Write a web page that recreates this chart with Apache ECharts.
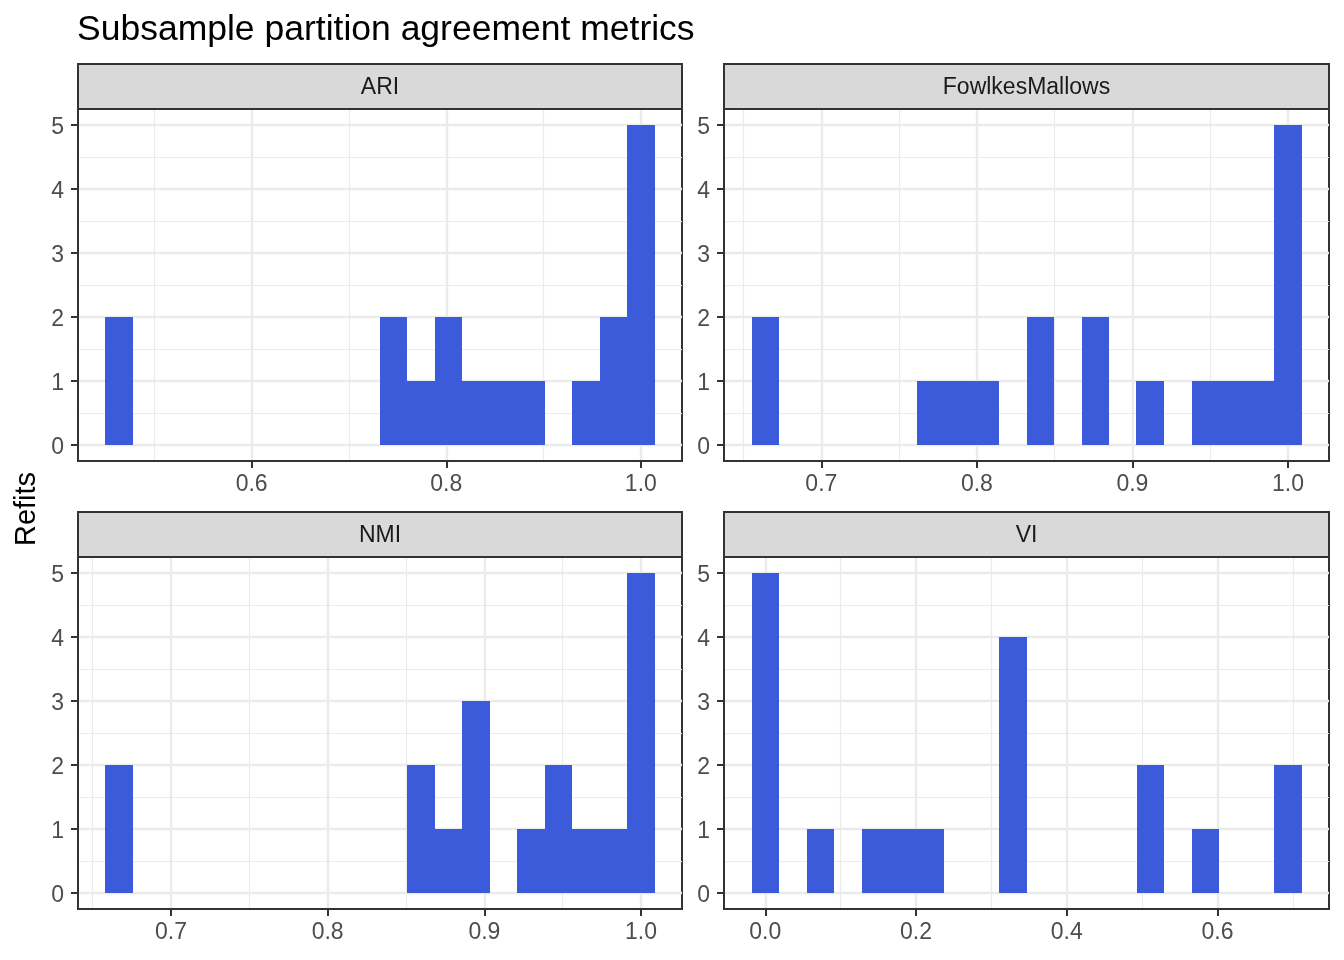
<!DOCTYPE html>
<html>
<head>
<meta charset="utf-8">
<title>Subsample partition agreement metrics</title>
<script src="https://cdn.jsdelivr.net/npm/echarts@6/dist/echarts.min.js"></script>
<style>
  html, body { margin: 0; padding: 0; background: #fff; }
  #chart { width: 1344px; height: 960px; }
</style>
</head>
<body>
<div id="chart"></div>
<script>
// facets, in drawing order
var panels = ['ARI', 'FowlkesMallows', 'NMI', 'VI'];

// histogram bins (20 per facet): left edge of first bin and bin width
var ariBins = [0.4497, 0.02822];
var fmBins = [0.6551, 0.01768];
var nmiBins = [0.6582, 0.01752];
var viBins = [-0.01824, 0.03648];

// counts per bin
var ariCounts = [2, 0, 0, 0, 0, 0, 0, 0, 0, 0, 2, 1, 2, 1, 1, 1, 0, 1, 2, 5];
var fmCounts = [2, 0, 0, 0, 0, 0, 1, 1, 1, 0, 2, 0, 2, 0, 1, 0, 1, 1, 1, 5];
var nmiCounts = [2, 0, 0, 0, 0, 0, 0, 0, 0, 0, 0, 2, 1, 3, 0, 1, 2, 1, 1, 5];
var viCounts = [5, 0, 1, 0, 1, 1, 1, 0, 0, 4, 0, 0, 0, 0, 2, 0, 1, 0, 0, 2];

// tick labels / grid breaks
var ariBreaks = [0.6, 0.8, 1.0];
var ariMinor = [0.5, 0.7, 0.9];
var fmBreaks = [0.7, 0.8, 0.9, 1.0];
var fmMinor = [0.65, 0.75, 0.85, 0.95];
var nmiBreaks = [0.7, 0.8, 0.9, 1.0];
var nmiMinor = [0.65, 0.75, 0.85, 0.95];
var viBreaks = [0.0, 0.2, 0.4, 0.6];
var viMinor = [0.1, 0.3, 0.5, 0.7];
var yBreaks = [0, 1, 2, 3, 4, 5];
var yMinor = [0.5, 1.5, 2.5, 3.5, 4.5];

var bins = [ariBins, fmBins, nmiBins, viBins];
var counts = [ariCounts, fmCounts, nmiCounts, viCounts];
var breaks = [ariBreaks, fmBreaks, nmiBreaks, viBreaks];
var minors = [ariMinor, fmMinor, nmiMinor, viMinor];

var FONT = '"Liberation Sans", Arial, Helvetica, sans-serif';
var barColor = '#3B5BDB';
var colLeft = [78, 724], colWidth = [604, 605];
var stripTop = [64, 512], stripH = 45;
var plotH = 352;

var grids = [], xAxes = [], yAxes = [], series = [], graphics = [];

function renderBar(params, api) {
    var top = api.coord([api.value(0), api.value(2)]);
    var bottom = api.coord([api.value(1), 0]);
    // snap to whole pixels so neighbouring bins don't leave a seam
    var x0 = Math.round(top[0]), x1 = Math.round(bottom[0]);
    var y0 = Math.round(top[1]), y1 = Math.round(bottom[1]);
    return {
        type: 'rect',
        shape: {x: x0, y: y0, width: x1 - x0, height: y1 - y0},
        style: {fill: barColor}
    };
}

panels.forEach(function (name, k) {
    var col = k % 2, row = Math.floor(k / 2);
    var start = bins[k][0], w = bins[k][1], n = counts[k].length;
    var span = n * w;
    // ggplot-like 5% expansion
    var xmin = start - 0.05 * span, xmax = start + span + 0.05 * span;

    grids.push({
        left: colLeft[col], top: stripTop[row] + stripH,
        width: colWidth[col], height: plotH,
        show: true, backgroundColor: '#fff',
        borderColor: '#333', borderWidth: 2,
        containLabel: false, outerBoundsMode: 'none'
    });

    // major x axis
    xAxes.push({
        type: 'value', gridIndex: k, min: xmin, max: xmax, position: 'bottom',
        axisLine: {show: true, onZero: false, lineStyle: {color: '#333', width: 2}},
        axisTick: {show: true, length: 7, customValues: breaks[k], lineStyle: {color: '#333', width: 2}},
        axisLabel: {
            show: true, customValues: breaks[k], margin: 12,
            color: '#4D4D4D', fontSize: 23, fontFamily: FONT,
            formatter: function (v) { return Number(v).toFixed(1); }
        },
        splitLine: {show: true, lineStyle: {color: '#EBEBEB', width: 2.4}}
    });
    // minor x grid
    xAxes.push({
        type: 'value', gridIndex: k, min: xmin, max: xmax, position: 'bottom',
        axisLine: {show: false, onZero: false},
        axisTick: {show: false, customValues: minors[k]},
        axisLabel: {show: false, customValues: minors[k]},
        splitLine: {show: true, lineStyle: {color: '#EBEBEB', width: 1.2}}
    });
    // major y axis
    yAxes.push({
        type: 'value', gridIndex: k, min: -0.25, max: 5.25, position: 'left',
        axisLine: {show: true, onZero: false, lineStyle: {color: '#333', width: 2}},
        axisTick: {show: true, length: 7, customValues: yBreaks, lineStyle: {color: '#333', width: 2}},
        axisLabel: {
            show: true, customValues: yBreaks, margin: 14,
            formatter: function (v) { return '{n|' + v + '}'; },
            rich: {
                n: {color: '#4D4D4D', fontSize: 23, fontFamily: FONT, padding: [6, 0, 0, 0]}
            }
        },
        splitLine: {show: true, lineStyle: {color: '#EBEBEB', width: 2.4}}
    });
    // minor y grid
    yAxes.push({
        type: 'value', gridIndex: k, min: -0.25, max: 5.25, position: 'left',
        axisLine: {show: false, onZero: false},
        axisTick: {show: false, customValues: yMinor},
        axisLabel: {show: false, customValues: yMinor},
        splitLine: {show: true, lineStyle: {color: '#EBEBEB', width: 1.2}}
    });

    var data = [];
    counts[k].forEach(function (c, i) {
        if (c > 0) data.push([start + i * w, start + (i + 1) * w, c]);
    });
    series.push({
        type: 'custom', name: name,
        xAxisIndex: 2 * k, yAxisIndex: 2 * k,
        renderItem: renderBar,
        encode: {x: [0, 1], y: 2},
        data: data, z: 5
    });

    // facet strip
    graphics.push({
        type: 'rect', z: 10,
        shape: {x: colLeft[col], y: stripTop[row], width: colWidth[col], height: stripH},
        style: {fill: '#D9D9D9', stroke: '#333', lineWidth: 2}
    });
    graphics.push({
        type: 'text', z: 11,
        x: colLeft[col] + colWidth[col] / 2, y: stripTop[row] + stripH / 2 + 1,
        style: {
            text: name, fill: '#1A1A1A', font: '23px ' + FONT,
            align: 'center', verticalAlign: 'middle'
        }
    });
});

// y axis title
graphics.push({
    type: 'text', z: 11, x: 27, y: 509, rotation: Math.PI / 2,
    style: {text: 'Refits', fill: '#000', font: '29px ' + FONT, align: 'center', verticalAlign: 'middle'}
});

var chart = echarts.init(document.getElementById('chart'), null, {renderer: 'canvas'});
chart.setOption({
    animation: false,
    backgroundColor: '#fff',
    title: {
        text: 'Subsample partition agreement metrics',
        left: 77, top: 12, padding: 0,
        textStyle: {color: '#000', fontSize: 35.5, fontWeight: 'normal', fontFamily: FONT}
    },
    grid: grids,
    xAxis: xAxes,
    yAxis: yAxes,
    series: series,
    graphic: graphics
});
</script>
</body>
</html>
